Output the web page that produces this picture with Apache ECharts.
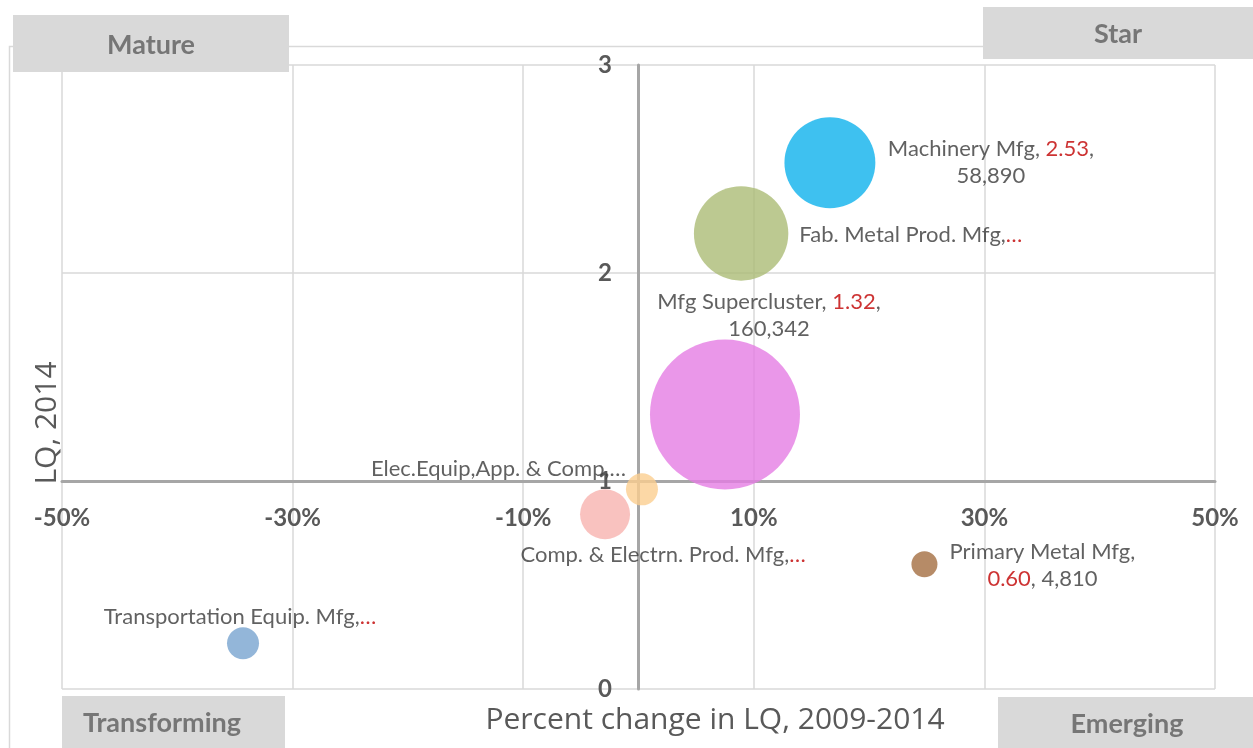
<!DOCTYPE html>
<html>
<head>
<meta charset="utf-8">
<script src="https://cdn.jsdelivr.net/npm/echarts@6/dist/echarts.min.js"></script>
<style>
  html, body { margin: 0; padding: 0; background: #ffffff; }
  #chart { width: 1253px; height: 748px; }
</style>
</head>
<body>
<div id="chart"></div>
<script>
// Manufacturing clusters: change in location quotient vs. 2014 LQ, bubble = employment
const clusterNames = [
  'Machinery Mfg',
  'Fab. Metal Prod. Mfg',
  'Mfg Supercluster',
  'Elec.Equip,App. & Comp',
  'Comp. & Electrn. Prod. Mfg',
  'Primary Metal Mfg',
  'Transportation Equip. Mfg'
];
const lqChangePct = [16.6, 8.9, 7.5, 0.3, -2.9, 24.8, -34.3];
const lq2014 = [2.53, 2.19, 1.32, 0.96, 0.84, 0.60, 0.22];
const employment = [58890, 63500, 160342, 7300, 17800, 4810, 7300];
// fill colours, drawn at 80% opacity
const bubbleColors = ['#0eb1ec', '#abbc76', '#e57de4', '#fbce90', '#f7b3af', '#a46e41', '#78a4cf'];
const xTicks = [-50, -30, -10, 10, 30, 50];
const yTicks = [0, 1, 2, 3];
const quadrantNames = ['Mature', 'Star', 'Transforming', 'Emerging'];

const fmtInt = v => v.toLocaleString('en-US');
const ell = '…';

// Label text for each bubble (long ones are truncated, as in the source workbook)
const labelTexts = [
  `${clusterNames[0]}, {r|${lq2014[0].toFixed(2)}},\n${fmtInt(employment[0])}`,
  `${clusterNames[1]},{r|${ell}}`,
  `${clusterNames[2]}, {r|${lq2014[2].toFixed(2)}},\n${fmtInt(employment[2])}`,
  `${clusterNames[3]},${ell}`,
  `${clusterNames[4]},{r|${ell}}`,
  `${clusterNames[5]},\n{r|${lq2014[5].toFixed(2)}}, ${fmtInt(employment[5])}`,
  `${clusterNames[6]},{r|${ell}}`
];

// Label placement around each bubble; two-line labels are centred on an offset from the bubble centre
const labelPlacement = [
  { position: 'inside', align: 'center', verticalAlign: 'middle', offset: [161, 0] },
  { position: 'right', distance: 11, offset: [0, 1] },
  { position: 'inside', align: 'center', verticalAlign: 'middle', offset: [44, -99] },
  { position: 'left', distance: 0, offset: [0, -20] },
  { position: 'bottom', distance: 2, offset: [58, 0] },
  { position: 'inside', align: 'center', verticalAlign: 'middle', offset: [118, 1] },
  { position: 'top', distance: 0, offset: [-3, 3] }
];

const sizeScale = 150 / Math.sqrt(160342);

const labelFont = { fontFamily: 'Lato', fontSize: 22, lineHeight: 27 };

const seriesData = clusterNames.map((name, i) => ({
  name: name,
  value: [lqChangePct[i], lq2014[i], employment[i]],
  itemStyle: { color: bubbleColors[i], opacity: 0.8 },
  label: Object.assign({
    show: true,
    formatter: labelTexts[i],
    color: '#3a3a3a',
    rich: { r: Object.assign({ color: '#c00000' }, labelFont) }
  }, labelFont, labelPlacement[i])
}));

const chart = echarts.init(document.getElementById('chart'), null, { renderer: 'canvas' });

const boxStyle = { fill: '#d9d9d9' };
const boxText = (t) => ({ text: t, fill: '#767676', font: 'bold 27px Lato', textAlign: 'center', textVerticalAlign: 'middle' });

chart.setOption({
  animation: false,
  backgroundColor: '#ffffff',
  grid: { left: 62, right: 38, top: 65, bottom: 59, containLabel: false },
  xAxis: {
    type: 'value',
    min: xTicks[0],
    max: xTicks[xTicks.length - 1],
    interval: xTicks[1] - xTicks[0],
    position: 'bottom',
    offset: -208,
    axisLine: { show: true, onZero: false, lineStyle: { color: '#a6a6a6', width: 3 } },
    axisTick: { show: false },
    axisLabel: {
      formatter: '{value}%', fontFamily: 'Lato', fontWeight: 'bold', fontSize: 24,
      color: '#595959', margin: 25
    },
    splitLine: { show: true, lineStyle: { color: '#d9d9d9', width: 1.5 } }
  },
  yAxis: {
    type: 'value',
    min: yTicks[0],
    max: yTicks[yTicks.length - 1],
    interval: yTicks[1] - yTicks[0],
    position: 'left',
    offset: -576,
    axisLine: { show: true, onZero: false, lineStyle: { color: '#a6a6a6', width: 3 } },
    axisTick: { show: false },
    axisLabel: {
      fontFamily: 'Lato', fontWeight: 'bold', fontSize: 24, color: '#595959', margin: 26
    },
    splitLine: { show: true, lineStyle: { color: '#d9d9d9', width: 1.5 } }
  },
  series: [{
    type: 'scatter',
    data: seriesData,
    symbol: 'circle',
    symbolSize: v => Math.sqrt(v[2]) * sizeScale,
    emphasis: { disabled: true },
    z: 3
  }],
  graphic: [
    // outer chart border
    { type: 'rect', left: 7, top: 44, shape: { width: 1270, height: 740 }, style: { fill: 'none', stroke: '#d9d9d9', lineWidth: 1.5 }, z: -1, silent: true },
    // quadrant boxes
    { type: 'rect', shape: { x: 13, y: 15, width: 276, height: 57 }, style: boxStyle, z: 10 },
    { type: 'text', x: 151, y: 45, style: boxText(quadrantNames[0]), z: 11 },
    { type: 'rect', shape: { x: 983, y: 7, width: 280, height: 52 }, style: boxStyle, z: 10 },
    { type: 'text', x: 1118, y: 34, style: boxText(quadrantNames[1]), z: 11 },
    { type: 'rect', shape: { x: 62, y: 696, width: 223, height: 60 }, style: boxStyle, z: 10 },
    { type: 'text', x: 162, y: 723, style: boxText(quadrantNames[2]), z: 11 },
    { type: 'rect', shape: { x: 998, y: 697, width: 270, height: 60 }, style: boxStyle, z: 10 },
    { type: 'text', x: 1127, y: 724, style: boxText(quadrantNames[3]), z: 11 },
    // axis titles
    { type: 'text', x: 715, y: 720, style: { text: 'Percent change in LQ, 2009-2014', fill: '#595959', font: '30px "Open Sans"', textAlign: 'center', textVerticalAlign: 'middle' }, z: 11 },
    { type: 'text', x: 47, y: 423, rotation: Math.PI / 2, style: { text: 'LQ, 2014', fill: '#595959', font: '30px "Open Sans"', textAlign: 'center', textVerticalAlign: 'middle' }, z: 11 }
  ]
});
</script>
</body>
</html>
